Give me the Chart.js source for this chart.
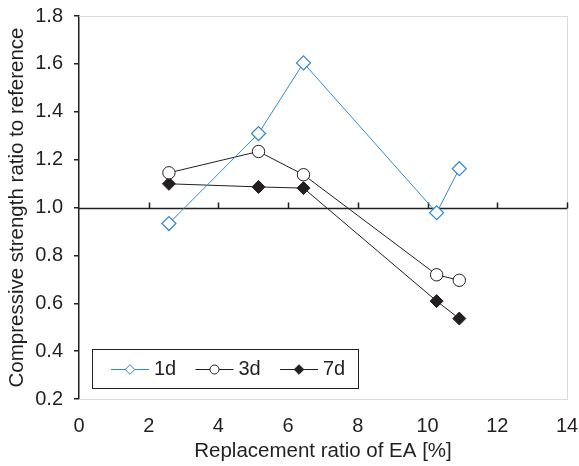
<!DOCTYPE html>
<html>
<head>
<meta charset="utf-8">
<script src="https://cdn.jsdelivr.net/npm/chart.js@4.4.1/dist/chart.umd.min.js"></script>
<style>
  html, body { margin: 0; padding: 0; background: #fff; }
  #wrap { width: 579px; height: 466px; }
</style>
</head>
<body>
<div id="wrap"><canvas id="chart" width="579" height="466"></canvas></div>
<script>
/** Data. */
const ratioEA = [2.58, 5.15, 6.44, 10.26, 10.91];
const ratio1d = [0.933, 1.309, 1.604, 0.978, 1.162];
const ratio3d = [1.145, 1.234, 1.137, 0.719, 0.696];
const ratio7d = [1.099, 1.086, 1.081, 0.609, 0.536];
const xTicks = [0, 2, 4, 6, 8, 10, 12, 14];
const yTicks = [0.2, 0.4, 0.6, 0.8, 1.0, 1.2, 1.4, 1.6, 1.8];

const FONT = 'Liberation Sans, Arial, sans-serif';
const INK = '#231f20';
const BLUE = '#2f8ad3';

const toPoints = (ys) => ratioEA.map((x, i) => ({ x: x, y: ys[i] }));

/** Frame, reference line at 1.0 and its upward ticks. */
const framePlugin = {
  id: 'frame',
  beforeDatasetsDraw(chart) {
    const { ctx, chartArea: a, scales } = chart;
    ctx.save();
    ctx.strokeStyle = '#d9d9d9';
    ctx.lineWidth = 1;
    ctx.beginPath();
    ctx.moveTo(a.left, a.top + 0.5);
    ctx.lineTo(a.right + 0.5, a.top + 0.5);
    ctx.lineTo(a.right + 0.5, a.bottom + 0.5);
    ctx.lineTo(a.left, a.bottom + 0.5);
    ctx.stroke();

    const y1 = Math.round(scales.y.getPixelForValue(1.0)) + 0.5;
    ctx.strokeStyle = INK;
    ctx.lineWidth = 1.5;
    ctx.beginPath();
    ctx.moveTo(a.left, y1);
    ctx.lineTo(a.right, y1);
    xTicks.forEach((t) => {
      if (t === 0) return;
      const px = Math.round(scales.x.getPixelForValue(t)) + 0.5;
      ctx.moveTo(px, y1);
      ctx.lineTo(px, y1 - 6);
    });
    ctx.stroke();
    ctx.restore();
  },
};

/** Boxed legend inside the plot, as in the figure. */
const legendPlugin = {
  id: 'boxLegend',
  afterDraw(chart) {
    const { ctx } = chart;
    const x0 = 92, y0 = 349, w = 266, h = 39;
    ctx.save();
    ctx.fillStyle = '#fff';
    ctx.fillRect(x0, y0, w, h);
    ctx.strokeStyle = INK;
    ctx.lineWidth = 1;
    ctx.strokeRect(x0 + 0.5, y0 + 0.5, w, h);
    ctx.font = '20px ' + FONT;
    ctx.textBaseline = 'middle';
    const cy = y0 + h / 2 + 1;
    chart.data.datasets.forEach((ds, i) => {
      const lx = x0 + 19 + i * 84.5;
      const mx = lx + 19;
      ctx.strokeStyle = ds.borderColor;
      ctx.lineWidth = 1;
      ctx.beginPath();
      ctx.moveTo(lx, cy);
      ctx.lineTo(lx + 38, cy);
      ctx.stroke();
      ctx.fillStyle = ds.pointBackgroundColor;
      ctx.strokeStyle = ds.pointBorderColor;
      ctx.beginPath();
      if (ds.pointStyle === 'circle') {
        ctx.arc(mx, cy, 4.5, 0, Math.PI * 2);
      } else {
        ctx.moveTo(mx, cy - 4.8);
        ctx.lineTo(mx + 4.8, cy);
        ctx.lineTo(mx, cy + 4.8);
        ctx.lineTo(mx - 4.8, cy);
        ctx.closePath();
      }
      ctx.fill();
      ctx.stroke();
      ctx.fillStyle = INK;
      ctx.fillText(ds.label, lx + 43, cy);
    });
    ctx.restore();
  },
};

const config = {
  type: 'line',
  data: {
    datasets: [
      {
        label: '1d',
        data: toPoints(ratio1d),
        borderColor: BLUE,
        backgroundColor: '#fff',
        borderWidth: 1,
        pointStyle: 'rectRot',
        pointRadius: 7,
        pointBorderWidth: 1.2,
        pointBorderColor: BLUE,
        pointBackgroundColor: '#fff',
      },
      {
        label: '3d',
        data: toPoints(ratio3d),
        borderColor: INK,
        backgroundColor: '#fff',
        borderWidth: 1,
        pointStyle: 'circle',
        pointRadius: 6.2,
        pointBorderWidth: 1,
        pointBorderColor: INK,
        pointBackgroundColor: '#fff',
      },
      {
        label: '7d',
        data: toPoints(ratio7d),
        borderColor: INK,
        backgroundColor: INK,
        borderWidth: 1,
        pointStyle: 'rectRot',
        pointRadius: 6.5,
        pointBorderWidth: 1,
        pointBorderColor: INK,
        pointBackgroundColor: INK,
      },
    ],
  },
  options: {
    responsive: false,
    animation: false,
    layout: { padding: { top: 16, right: 12, left: 0, bottom: 0 } },
    plugins: {
      legend: { display: false },
      tooltip: { enabled: false },
    },
    scales: {
      x: {
        type: 'linear',
        min: 0,
        max: 14,
        afterBuildTicks: (s) => { s.ticks = xTicks.map((v) => ({ value: v })); },
        afterFit: (s) => {
          s.height = 67;
          s.paddingLeft = 0;
          s.paddingRight = 0;
        },
        grid: { display: false, drawTicks: false },
        border: { display: false },
        ticks: { color: INK, font: { family: FONT, size: 20 }, padding: 15 },
        title: {
          display: true,
          text: 'Replacement ratio of EA [%]',
          color: INK,
          font: { family: FONT, size: 20.5 },
          padding: { top: 0, bottom: 2 },
        },
      },
      y: {
        type: 'linear',
        min: 0.2,
        max: 1.8,
        afterBuildTicks: (s) => { s.ticks = yTicks.map((v) => ({ value: v })); },
        afterFit: (s) => {
          s.width = 79;
          s.paddingTop = 0;
          s.paddingBottom = 0;
        },
        grid: { drawOnChartArea: false, drawTicks: true, tickLength: 5, color: INK, lineWidth: 1.5 },
        border: { display: true, color: INK, width: 1.5 },
        ticks: {
          color: INK,
          font: { family: FONT, size: 20 },
          padding: 11,
          callback: (v) => v.toFixed(1),
        },
        title: {
          display: true,
          text: 'Compressive strength ratio to reference',
          color: INK,
          font: { family: FONT, size: 20.5 },
          padding: { top: 5, bottom: 0 },
        },
      },
    },
  },
  plugins: [framePlugin, legendPlugin],
};

new Chart(document.getElementById('chart').getContext('2d'), config);
</script>
</body>
</html>
